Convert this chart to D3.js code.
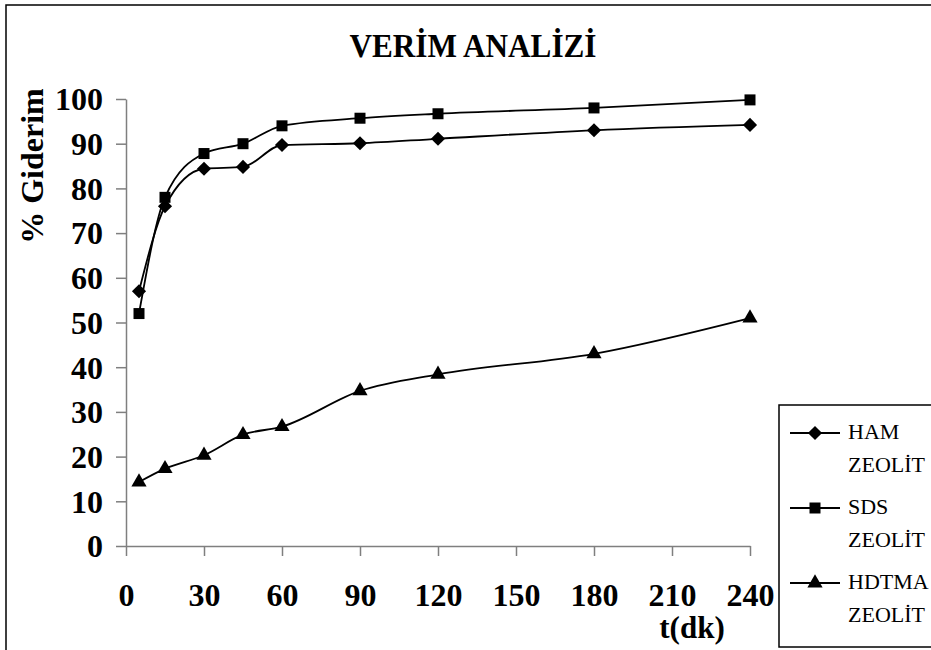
<!DOCTYPE html>
<html>
<head>
<meta charset="utf-8">
<script src="https://cdn.jsdelivr.net/npm/d3@7"></script>
<style>
  html, body { margin: 0; padding: 0; background: #fff; }
  svg { display: block; }
  text { font-family: "Liberation Serif", "Times New Roman", serif; fill: #000; }
</style>
</head>
<body>
<svg id="chart" width="931" height="650"></svg>
<script>
// Sampling times (minutes)
const times = [5, 15, 30, 45, 60, 90, 120, 180, 240];
// Removal efficiency (%) per adsorbent
const hamValues   = [57.0, 76.0, 84.4, 84.8, 89.7, 90.1, 91.1, 93.0, 94.2];
const sdsValues   = [52.0, 78.0, 87.8, 90.0, 94.0, 95.7, 96.7, 98.0, 99.8];
const hdtmaValues = [14.3, 17.3, 20.3, 24.9, 26.7, 34.7, 38.4, 43.0, 51.0];
const seriesNames = [["HAM", "ZEOLİT"], ["SDS", "ZEOLİT"], ["HDTMA", "ZEOLİT"]];
const xTicks = [0, 30, 60, 90, 120, 150, 180, 210, 240];
const yTicks = [0, 10, 20, 30, 40, 50, 60, 70, 80, 90, 100];

const svg = d3.select("#chart");

// outer frame (right and bottom edges run past the page)
svg.append("rect")
  .attr("x", 6).attr("y", 5).attr("width", 1200).attr("height", 1200)
  .attr("fill", "none").attr("stroke", "#000").attr("stroke-width", 1.5);

const x = d3.scaleLinear().domain([0, 240]).range([126, 750]);
const y = d3.scaleLinear().domain([0, 100]).range([546, 99]);

// title
svg.append("text")
  .attr("x", 473).attr("y", 57)
  .attr("text-anchor", "middle")
  .attr("font-size", 33).attr("font-weight", "bold")
  .attr("textLength", 247).attr("lengthAdjust", "spacingAndGlyphs")
  .text("VERİM ANALİZİ");

// y axis
const yAxis = svg.append("g")
  .attr("transform", `translate(${x(0)},0)`)
  .call(d3.axisLeft(y).tickValues(yTicks).tickSize(10).tickSizeOuter(0).tickPadding(13));
yAxis.selectAll("path, line").attr("stroke", "#7f7f7f").attr("stroke-width", 1.5);
yAxis.selectAll("text")
  .attr("font-size", 32).attr("font-weight", "bold").attr("fill", "#000")
  .attr("dy", "0.34em");

// x axis
const xAxis = svg.append("g")
  .attr("transform", `translate(0,${y(0)})`)
  .call(d3.axisBottom(x).tickValues(xTicks).tickSize(10).tickSizeOuter(0));
xAxis.selectAll("path, line").attr("stroke", "#7f7f7f").attr("stroke-width", 1.5);
xAxis.selectAll("text")
  .attr("font-size", 32).attr("font-weight", "bold").attr("fill", "#000")
  .attr("y", 60).attr("dy", 0);

// axis titles
svg.append("text")
  .attr("transform", "translate(43,166) rotate(-90)")
  .attr("text-anchor", "middle")
  .attr("font-size", 32).attr("font-weight", "bold")
  .text("% Giderim");

svg.append("text")
  .attr("x", 692).attr("y", 638)
  .attr("text-anchor", "middle")
  .attr("font-size", 31).attr("font-weight", "bold")
  .text("t(dk)");

// series
const diamond = d3.symbol().type(d3.symbolSquare).size(100);
const square = d3.symbol().type(d3.symbolSquare).size(121);
const triangle = d3.symbol().type(d3.symbolTriangle).size(100);
const series = [
  { values: hamValues, sym: diamond, rot: 45 },
  { values: sdsValues, sym: square, rot: 0 },
  { values: hdtmaValues, sym: triangle, rot: 0 }
];

const line = d3.line()
  .x(d => x(d[0])).y(d => y(d[1]))
  .curve(d3.curveMonotoneX);

series.forEach(s => {
  const pts = times.map((t, i) => [t, s.values[i]]);
  svg.append("path")
    .datum(pts)
    .attr("d", line)
    .attr("fill", "none").attr("stroke", "#000").attr("stroke-width", 1.8);
  svg.append("g").selectAll("path")
    .data(pts).join("path")
    .attr("d", s.sym())
    .attr("transform", d => `translate(${x(d[0])},${y(d[1])}) rotate(${s.rot})`)
    .attr("fill", "#000");
});

// legend
const legend = svg.append("g");
legend.append("rect")
  .attr("x", 779).attr("y", 405).attr("width", 300).attr("height", 242)
  .attr("fill", "#fff").attr("stroke", "#000").attr("stroke-width", 1.5);

series.forEach((s, i) => {
  const cy = 433 + i * 75;
  const g = legend.append("g");
  g.append("line")
    .attr("x1", 790).attr("x2", 840).attr("y1", cy).attr("y2", cy)
    .attr("stroke", "#000").attr("stroke-width", 1.8);
  g.append("path")
    .attr("d", s.sym())
    .attr("transform", `translate(815,${cy}) rotate(${s.rot})`)
    .attr("fill", "#000");
  seriesNames[i].forEach((label, j) => {
    g.append("text")
      .attr("x", 848).attr("y", cy + 6 + j * 33)
      .attr("font-size", 22)
      .text(label);
  });
});
</script>
</body>
</html>
